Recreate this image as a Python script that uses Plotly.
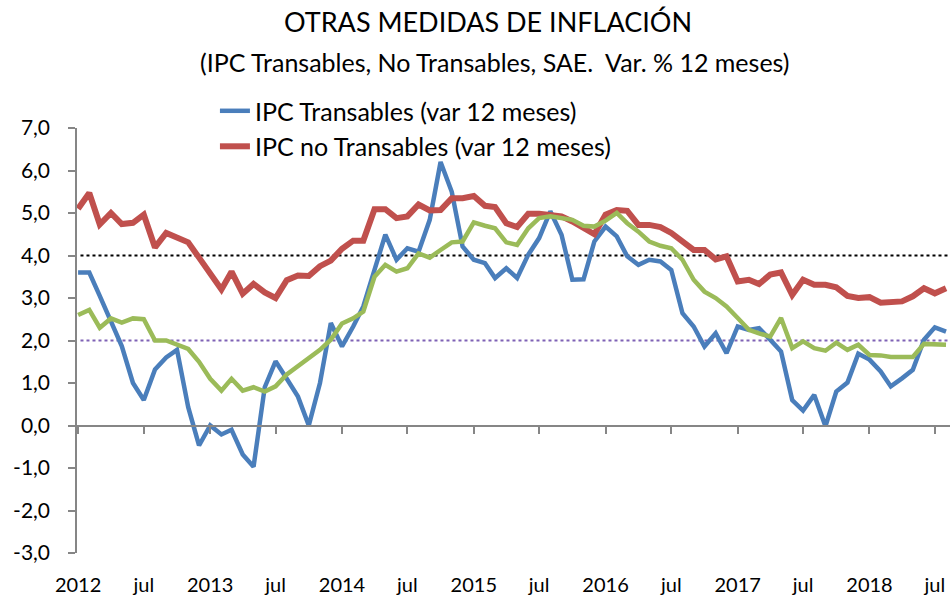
import plotly.graph_objects as go
import pandas as pd

# Monthly observations, Jan 2012 .. Aug 2018
months = pd.date_range("2012-01-01", "2018-08-01", freq="MS")

transables = [
    3.60, 3.60, 3.05, 2.42, 1.87, 1.00, 0.60, 1.32, 1.60, 1.78, 0.43, -0.47,
    0.00, -0.21, -0.10, -0.68, -0.97, 0.90, 1.51, 1.10, 0.68, 0.00, 1.00, 2.41,
    1.86, 2.33, 2.80, 3.66, 4.49, 3.90, 4.17, 4.09, 4.84, 6.20, 5.50, 4.21,
    3.90, 3.82, 3.47, 3.70, 3.47, 4.02, 4.41, 5.04, 4.49, 3.43, 3.44, 4.33,
    4.68, 4.45, 3.98, 3.78, 3.90, 3.86, 3.66, 2.64, 2.33, 1.86, 2.17, 1.70,
    2.33, 2.25, 2.29, 2.02, 1.74, 0.60, 0.35, 0.72, -0.02, 0.80, 1.01, 1.69,
    1.55, 1.27, 0.92, 1.11, 1.31, 2.02, 2.31, 2.21,
]

no_transables = [
    5.10, 5.47, 4.73, 5.00, 4.74, 4.77, 4.96, 4.19, 4.53, 4.42, 4.31, 3.95,
    3.60, 3.20, 3.62, 3.10, 3.33, 3.13, 3.00, 3.42, 3.53, 3.52, 3.75, 3.88,
    4.16, 4.35, 4.35, 5.09, 5.09, 4.88, 4.92, 5.20, 5.06, 5.07, 5.35, 5.35,
    5.40, 5.17, 5.14, 4.76, 4.67, 4.98, 4.98, 4.96, 4.92, 4.80, 4.64, 4.50,
    4.96, 5.07, 5.05, 4.72, 4.72, 4.67, 4.53, 4.33, 4.13, 4.13, 3.91, 3.98,
    3.39, 3.43, 3.33, 3.55, 3.60, 3.07, 3.43, 3.31, 3.31, 3.25, 3.05, 3.00,
    3.02, 2.89, 2.89, 2.92, 3.04, 3.23, 3.11, 3.23,
]

sae = [
    2.60, 2.72, 2.30, 2.52, 2.42, 2.52, 2.50, 2.00, 2.00, 1.90, 1.80, 1.50,
    1.10, 0.82, 1.10, 0.82, 0.90, 0.80, 0.92, 1.20, 1.40, 1.60, 1.78, 2.02,
    2.40, 2.52, 2.68, 3.50, 3.78, 3.62, 3.70, 4.05, 3.95, 4.13, 4.31, 4.33,
    4.78, 4.70, 4.64, 4.31, 4.25, 4.64, 4.88, 4.92, 4.89, 4.84, 4.70, 4.68,
    4.82, 5.00, 4.76, 4.56, 4.33, 4.23, 4.17, 3.90, 3.43, 3.15, 3.00, 2.80,
    2.53, 2.25, 2.17, 2.09, 2.53, 1.82, 1.98, 1.82, 1.76, 1.95, 1.78, 1.90,
    1.66, 1.65, 1.61, 1.61, 1.61, 1.92, 1.92, 1.90,
]

x_tick_vals = [
    "2012-01-01", "2012-07-01", "2013-01-01", "2013-07-01", "2014-01-01",
    "2014-07-01", "2015-01-01", "2015-07-01", "2016-01-01", "2016-07-01",
    "2017-01-01", "2017-07-01", "2018-01-01", "2018-07-01",
]
x_tick_text = ["2012", "jul", "2013", "jul", "2014", "jul", "2015", "jul",
               "2016", "jul", "2017", "jul", "2018", "jul"]

y_tick_vals = [-3, -2, -1, 0, 1, 2, 3, 4, 5, 6, 7]
y_tick_text = ["-3,0", "-2,0", "-1,0", "0,0", "1,0", "2,0", "3,0", "4,0",
               "5,0", "6,0", "7,0"]

ref_levels = [4.0, 2.0]
ref_colors = ["#000000", "#7F62B5"]

FONT = "Lato"
AXIS_GRAY = "#868686"

fig = go.Figure()
fig.add_trace(go.Scatter(
    x=months, y=transables, mode="lines",
    name="IPC Transables (var 12 meses)", legendgroup="a",
    line=dict(color="#4A7EBB", width=4.5),
))
fig.add_trace(go.Scatter(
    x=months, y=no_transables, mode="lines",
    name="IPC no Transables (var 12 meses)", legendgroup="b",
    line=dict(color="#C0504D", width=6),
))
fig.add_trace(go.Scatter(
    x=months, y=sae, mode="lines", name="SAE", showlegend=False,
    line=dict(color="#9BBB59", width=4.5), xaxis="x2",
))

for lvl, col in zip(ref_levels, ref_colors):
    fig.add_shape(type="line", xref="paper", x0=0.004, x1=1.0,
                  yref="y", y0=lvl, y1=lvl, layer="below",
                  line=dict(color=col, width=1.8, dash="dot"))

fig.add_annotation(text="OTRAS MEDIDAS DE INFLACIÓN", xref="paper", yref="paper",
                   x=0.471, y=1.251, showarrow=False, xanchor="center", yanchor="middle",
                   font=dict(family=FONT, size=27, color="#000000"))
fig.add_annotation(text="(IPC Transables, No Transables, SAE.  Var. % 12 meses)",
                   xref="paper", yref="paper", x=0.479, y=1.155, showarrow=False,
                   xanchor="center", yanchor="middle",
                   font=dict(family=FONT, size=25, color="#000000"))

fig.update_layout(
    width=951, height=600,
    margin=dict(l=77, r=1, t=128, b=47, autoexpand=False),
    paper_bgcolor="white", plot_bgcolor="white",
    font=dict(family=FONT, size=20, color="#000000"),
    showlegend=True,
    legend=dict(x=0.158, y=1.094, xanchor="left", yanchor="top",
                bgcolor="rgba(0,0,0,0)", font=dict(family=FONT, size=25),
                traceorder="grouped", tracegroupgap=0),
    xaxis=dict(
        range=["2011-12-29", "2018-08-12"],
        tickvals=x_tick_vals, ticktext=x_tick_text,
        showline=False, showgrid=False, zeroline=False,
        ticks="", ticklabelstandoff=18, automargin=False,
        tickfont=dict(family=FONT, size=20),
    ),
    xaxis2=dict(
        overlaying="x", matches="x", anchor="free", position=0.3, side="bottom",
        showline=True, linecolor=AXIS_GRAY, linewidth=2,
        ticks="outside", ticklen=7, tickwidth=1.5, tickcolor=AXIS_GRAY,
        tickvals=x_tick_vals, showticklabels=False,
        showgrid=False, zeroline=False, automargin=False,
    ),
    yaxis=dict(
        range=[-3, 7], tickvals=y_tick_vals, ticktext=y_tick_text,
        showline=True, linecolor=AXIS_GRAY, linewidth=1.5,
        ticks="outside", ticklen=7, tickwidth=1.5, tickcolor=AXIS_GRAY,
        showgrid=False, zeroline=False, ticklabelstandoff=14, automargin=False,
        tickfont=dict(family=FONT, size=21),
    ),
)

fig.write_html("out.html",
               config={"displayModeBar": False},
               post_script="document.body.style.margin='0px';document.body.style.overflow='hidden';")
